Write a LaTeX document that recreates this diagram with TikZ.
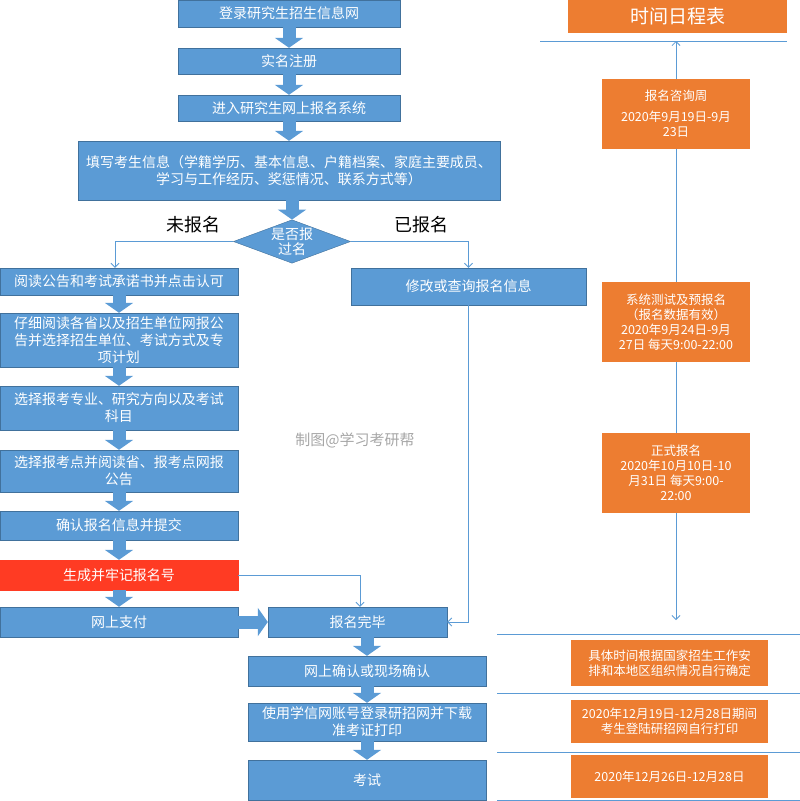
\documentclass[tikz,border=0pt]{standalone}
\usepackage{fontspec}
\setmainfont{Noto Sans CJK SC}
\usetikzlibrary{positioning,shapes.geometric,arrows.meta}
\definecolor{blu}{RGB}{91,155,213}
\definecolor{bdr}{RGB}{65,113,156}
\definecolor{org}{RGB}{237,125,49}
\definecolor{rd}{RGB}{255,59,35}
\begin{document}
\begin{tikzpicture}[x=1pt,y=-1pt,
    box/.style={draw=bdr, fill=blu, text=white, font=\fontsize{14}{17}\selectfont, align=center, inner sep=1pt},
    obox/.style={fill=org, text=white, font=\fontsize{12.5}{15}\selectfont, align=center, inner sep=1pt},
    blk/.style={draw=bdr, line width=13pt, blu, -{Triangle[length=10pt,width=28pt]}},
    thin/.style={draw=blu, line width=0.8pt, -{Straight Barb[length=4pt]}},
    tag/.style={font=\fontsize{18}{20}\selectfont}]
\useasboundingbox (0,0) rectangle (800,801);
% main flow
\node[box, minimum width=222pt, minimum height=27pt] (login) at (289,13.5) {登录研究生招生信息网};
\node[box, minimum width=222pt, minimum height=26pt] (real) at (289,61) {实名注册};
\node[box, minimum width=222pt, minimum height=26pt] (enter) at (289,108) {进入研究生网上报名系统};
\node[box, minimum width=422pt, minimum height=59pt] (fill) at (289,170.5) {填写考生信息（学籍学历、基本信息、户籍档案、家庭主要成员、\\学习与工作经历、奖惩情况、联系方式等）};
\node[diamond, fill=blu, draw=bdr, text=white, aspect=2.7, inner sep=0pt, minimum width=116pt, minimum height=43pt, font=\fontsize{14}{15}\selectfont, align=center] (ask) at (292,241.5) {是否报\\过名};
\node[tag] at (193,225) {未报名};
\node[tag] at (421,225) {已报名};
% left branch
\node[box, minimum width=238pt, minimum height=27pt] (read) at (119,281.5) {阅读公告和考试承诺书并点击认可};
\node[box, minimum width=238pt, minimum height=54pt] (unit) at (119,340) {仔细阅读各省以及招生单位网报公\\告并选择招生单位、考试方式及专\\项计划};
\node[box, minimum width=238pt, minimum height=44pt] (major) at (119,408) {选择报考专业、研究方向以及考试\\科目};
\node[box, minimum width=238pt, minimum height=42pt] (site) at (119,471) {选择报考点并阅读省、报考点网报\\公告};
\node[box, minimum width=238pt, minimum height=29pt] (confirm) at (119,525.5) {确认报名信息并提交};
\node[box, fill=rd, draw=rd, minimum width=238pt, minimum height=30pt] (num) at (119,575) {生成并牢记报名号};
\node[box, minimum width=238pt, minimum height=30pt] (pay) at (119,622) {网上支付};
% right branch
\node[box, minimum width=235pt, minimum height=37pt] (edit) at (468.5,286.5) {修改或查询报名信息};
\node[box, minimum width=179pt, minimum height=30pt] (done) at (357.5,622) {报名完毕};
\node[box, minimum width=238pt, minimum height=30pt] (check) at (367,671) {网上确认或现场确认};
\node[box, minimum width=238pt, minimum height=38pt] (print) at (367,722) {使用学信网账号登录研招网并下载\\准考证打印};
\node[box, minimum width=238pt, minimum height=40pt] (exam) at (367,780) {考试};
% block arrows
\draw[blk] (login) -- (real);
\draw[blk] (real) -- (enter);
\draw[blk] (enter) -- (fill);
\draw[blk] (fill.south -| ask) -- (ask.north);
\draw[blk] (read) -- (unit);
\draw[blk] (unit) -- (major);
\draw[blk] (major) -- (site);
\draw[blk] (site) -- (confirm);
\draw[blk] (confirm) -- (num);
\draw[blk] (num) -- (pay);
\draw[blk] (pay) -- (done);
\draw[blk] (done.south -| check) -- (check);
\draw[blk] (check) -- (print);
\draw[blk] (print) -- (exam);
% thin connectors
\draw[thin] (ask.west) -| (read.north -| 115,0);
\draw[thin] (ask.east) -| (edit.north);
\draw[thin] (num.east) -| (done.north -| 360,0);
\draw[thin] (edit.south) |- (done.east);
% schedule
\node[obox, minimum width=219pt, minimum height=33pt, font=\fontsize{19}{20}\selectfont] (title) at (677.5,16.5) {时间日程表};
\coordinate (top) at (676,41);
\draw[blu, line width=0.8pt] (540,41) -- (787,41);
\node[obox, minimum width=148pt, minimum height=70pt] (s1) at (676,114) {报名咨询周\\[6pt]2020年9月19日-9月\\23日};
\node[obox, minimum width=148pt, minimum height=80pt] (s2) at (676,322) {系统测试及预报名\\（报名数据有效）\\2020年9月24日-9月\\27日 每天9:00-22:00};
\node[obox, minimum width=148pt, minimum height=80pt] (s3) at (676,473) {正式报名\\2020年10月10日-10\\月31日 每天9:00-\\22:00};
\coordinate (bot) at (676,620);
\draw[thin] (s1.north) -- (top);
\draw[blu, line width=0.8pt] (s1) -- (s2) -- (s3);
\draw[thin] (s3.south) -- (bot);
\foreach \yy in {634,693,752,800} \draw[blu, line width=0.8pt] (497,\yy) -- (800,\yy);
\node[obox, minimum width=197pt, minimum height=46pt] (t1) at (669.5,663) {具体时间根据国家招生工作安\\排和本地区组织情况自行确定};
\node[obox, minimum width=197pt, minimum height=43pt] (t2) at (669.5,721.5) {2020年12月19日-12月28日期间\\考生登陆研招网自行打印};
\node[obox, minimum width=197pt, minimum height=43pt] (t3) at (669.5,776.5) {2020年12月26日-12月28日};
% watermark
\node[text=gray!70, font=\fontsize{15}{18}\selectfont] (mark) at (355,440) {制图@学习考研帮};
\end{tikzpicture}
\end{document}
